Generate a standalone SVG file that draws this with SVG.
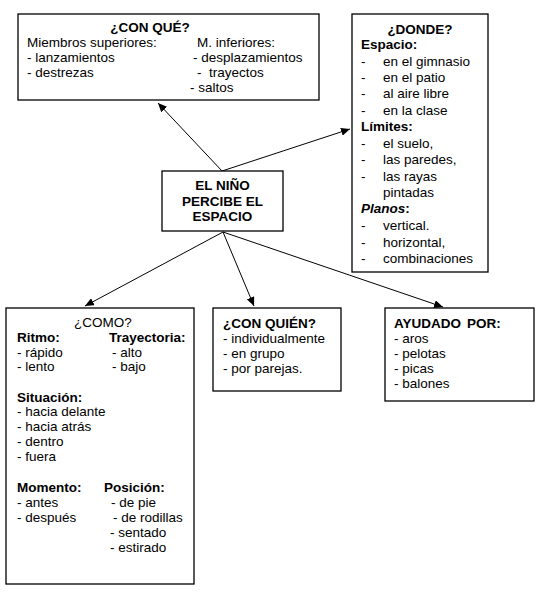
<svg xmlns="http://www.w3.org/2000/svg" width="541" height="592" viewBox="0 0 541 592">
<style>
text{font-family:"Liberation Sans",Arial,sans-serif;font-size:13.5px;fill:#000}
.b{font-weight:bold}
.c{text-anchor:middle}
.box{fill:#fff;stroke:#000;stroke-width:1.3}
.ln{stroke:#000;stroke-width:1;fill:none;marker-end:url(#ah)}
</style>
<defs>
<marker id="ah" markerUnits="userSpaceOnUse" markerWidth="10" markerHeight="8" refX="9" refY="4" orient="auto">
<path d="M0,0 L9,4 L0,8 Z" fill="#000"/>
</marker>
</defs>
<rect width="541" height="592" fill="#fff"/>
<g id="connectors">
<line class="ln" x1="222" y1="171" x2="158" y2="103"/>
<line class="ln" x1="222" y1="171" x2="350" y2="129"/>
<line class="ln" x1="223" y1="232" x2="85" y2="306"/>
<line class="ln" x1="223" y1="232" x2="254" y2="306"/>
<line class="ln" x1="223" y1="232" x2="443" y2="307"/>
</g>
<g id="conque">
<rect class="box" x="18" y="14" width="301" height="86"/>
<text class="b c" x="150" y="32">¿CON QUÉ?</text>
<text x="27" y="47">Miembros superiores:</text>
<text x="27" y="62">- lanzamientos</text>
<text x="27" y="77">- destrezas</text>
<text x="197" y="47">M. inferiores:</text>
<text x="193" y="62">- desplazamientos</text>
<text x="197" y="77">-</text>
<text x="209" y="77">trayectos</text>
<text x="190" y="92">- saltos</text>
</g>
<g id="donde">
<rect class="box" x="352" y="14" width="136" height="258"/>
<text class="b c" x="420" y="34">¿DONDE?</text>
<text class="b" x="361" y="49">Espacio:</text>
<text x="361" y="65.5">-</text><text x="383" y="65.5">en el gimnasio</text>
<text x="361" y="82">-</text><text x="383" y="82">en el patio</text>
<text x="361" y="98.4">-</text><text x="383" y="98.4">al aire libre</text>
<text x="361" y="114.8">-</text><text x="383" y="114.8">en la clase</text>
<text class="b" x="361" y="131">Límites:</text>
<text x="361" y="147.7">-</text><text x="383" y="147.7">el suelo,</text>
<text x="361" y="164.2">-</text><text x="383" y="164.2">las paredes,</text>
<text x="361" y="180.6">-</text><text x="383" y="180.6">las rayas</text>
<text x="383" y="197">pintadas</text>
<text x="361" y="213.2"><tspan class="b" font-style="italic">Planos</tspan><tspan class="b">:</tspan></text>
<text x="361" y="230">-</text><text x="383" y="230">vertical.</text>
<text x="361" y="246.5">-</text><text x="383" y="246.5">horizontal,</text>
<text x="361" y="262.8">-</text><text x="383" y="262.8">combinaciones</text>
</g>
<g id="nino">
<rect class="box" x="162" y="171" width="121" height="60"/>
<text class="b c" x="222.5" y="190">EL NIÑO</text>
<text class="b c" x="222.5" y="206">PERCIBE EL</text>
<text class="b c" x="222.5" y="221">ESPACIO</text>
</g>
<g id="como">
<rect class="box" x="6" y="308" width="188" height="276"/>
<text class="c" x="103" y="327">¿COMO?</text>
<text class="b" x="17" y="342">Ritmo:</text>
<text class="b" x="109" y="342">Trayectoria:</text>
<text x="17" y="356.5">- rápido</text>
<text x="112" y="356.5">- alto</text>
<text x="17" y="371">- lento</text>
<text x="112" y="371">- bajo</text>
<text class="b" x="17" y="402">Situación:</text>
<text x="17" y="416">- hacia delante</text>
<text x="17" y="431">- hacia atrás</text>
<text x="17" y="446">- dentro</text>
<text x="17" y="461">- fuera</text>
<text class="b" x="17" y="492">Momento:</text>
<text class="b" x="104" y="492">Posición:</text>
<text x="17" y="507">- antes</text>
<text x="111" y="507">- de pie</text>
<text x="17" y="522">- después</text>
<text x="113" y="522">- de rodillas</text>
<text x="110" y="537">- sentado</text>
<text x="110" y="552">- estirado</text>
</g>
<g id="conquien">
<rect class="box" x="213" y="308" width="128" height="83"/>
<text class="b" x="223" y="328">¿CON QUIÉN?</text>
<text x="223" y="343">- individualmente</text>
<text x="223" y="358">- en grupo</text>
<text x="223" y="373">- por parejas.</text>
</g>
<g id="ayudado">
<rect class="box" x="385" y="308" width="149" height="93"/>
<text class="b" x="394" y="328">AYUDADO <tspan x="467">POR:</tspan></text>
<text x="394" y="343">- aros</text>
<text x="394" y="358">- pelotas</text>
<text x="394" y="373">- picas</text>
<text x="394" y="388">- balones</text>
</g>
</svg>
